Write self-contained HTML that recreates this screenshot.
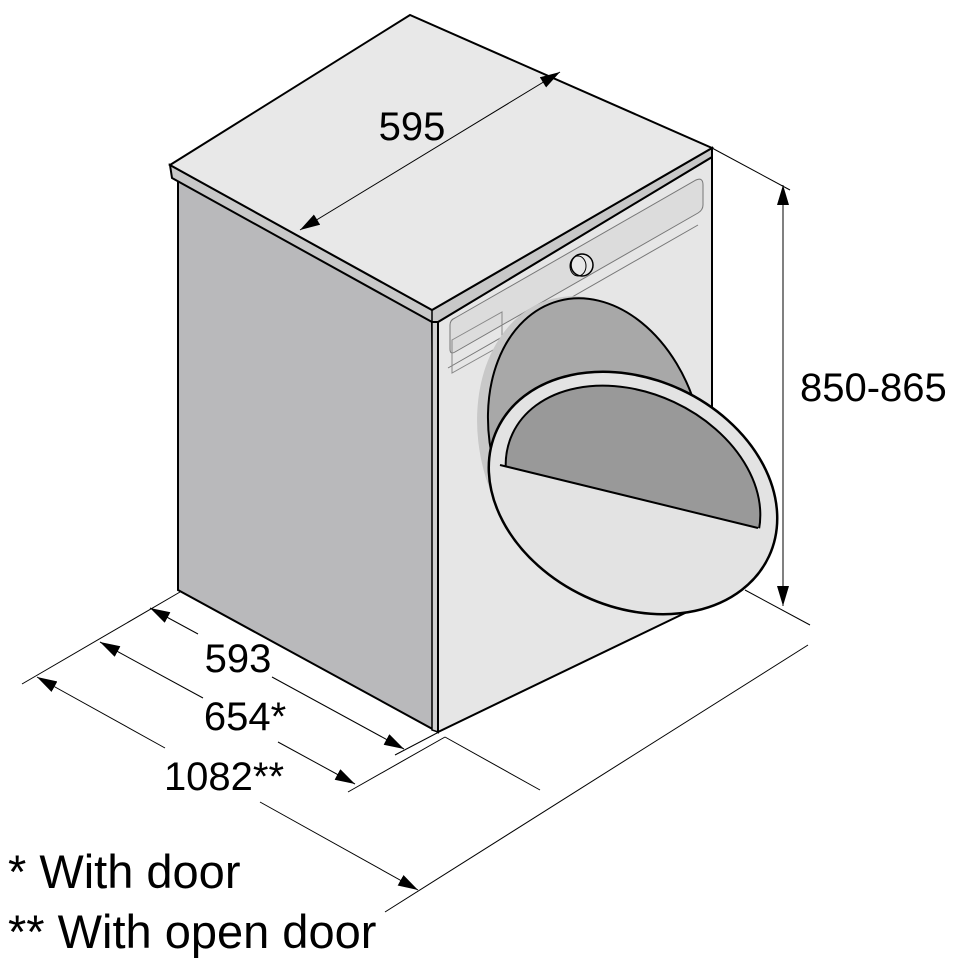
<!DOCTYPE html>
<html><head><style>html,body{margin:0;padding:0;background:#fff}svg{display:block}</style></head>
<body>
<svg width="962" height="971" viewBox="0 0 962 971" xmlns="http://www.w3.org/2000/svg" font-family="'Liberation Sans', sans-serif">
<defs>
<marker id="ah" viewBox="0 0 10 10" refX="10" refY="5" markerWidth="20" markerHeight="12" markerUnits="userSpaceOnUse" orient="auto-start-reverse" preserveAspectRatio="none"><path d="M0,0 L10,5 L0,10 z" fill="#000"/></marker>
<clipPath id="win"><polygon points="400,300 900,300 900,560 758,528 500,465 400,440"/></clipPath>
</defs>
<polygon points="178,178 432,320 438,732 178,590" fill="#b9b9bb" stroke="#000" stroke-width="2"/>
<polygon points="432,320 438,322 438,732 432,730" fill="#d0d0d0" stroke="#000" stroke-width="1.5"/>
<polygon points="438,322 712,157 712,600 438,732" fill="#e6e6e6" stroke="#000" stroke-width="2"/>
<polygon points="170,165 432,310 712,148 712,157 438,322 432,322 172,178" fill="#c8c8c8" stroke="#000" stroke-width="2"/>
<polygon points="170,165 410,15 712,148 432,310" fill="#e8e8e8" stroke="#000" stroke-width="2"/>
<line x1="432" y1="310" x2="432" y2="322" stroke="#000" stroke-width="1.5"/>
<path d="M455,318 L696,180 Q703,177 703,185 L703,205 Q703,210 698,213 L455,352 Q450,355 450,349 L450,325 Q450,320 455,318 Z" fill="#dcdcdc" stroke="#777" stroke-width="1"/>
<line x1="448" y1="368" x2="698" y2="225" stroke="#777" stroke-width="1"/>
<path d="M452,340 L502,312 L502,345 L452,373 Z" fill="none" stroke="#888" stroke-width="1"/>
<ellipse cx="582" cy="265" rx="11" ry="11" fill="#e8e8e8" stroke="#000" stroke-width="1.5"/>
<ellipse cx="578" cy="266" rx="8" ry="10" fill="none" stroke="#000" stroke-width="1"/>
<ellipse cx="590" cy="442" rx="110" ry="148" transform="rotate(-15 590 442)" fill="#c8c8c8"/>
<ellipse cx="596" cy="440" rx="105" ry="144" transform="rotate(-15 596 440)" fill="#a8a8a8" stroke="#000" stroke-width="2"/>
<ellipse cx="633" cy="493" rx="150" ry="114" transform="rotate(25 633 493)" fill="#e3e3e3" stroke="#000" stroke-width="2.5"/>
<g clip-path="url(#win)">
<ellipse cx="633" cy="490" rx="133" ry="97" transform="rotate(25 633 490)" fill="#999" stroke="#000" stroke-width="2"/>
</g>
<line x1="500" y1="465" x2="758" y2="528" stroke="#000" stroke-width="2"/>
<line x1="300" y1="230" x2="560" y2="72" stroke="#000" stroke-width="1" marker-start="url(#ah)" marker-end="url(#ah)"/>
<text x="412" y="140" font-size="40" text-anchor="middle">595</text>
<line x1="712" y1="148" x2="790" y2="190" stroke="#000" stroke-width="1"/>
<line x1="745" y1="590" x2="810" y2="625" stroke="#000" stroke-width="1"/>
<line x1="783" y1="185" x2="783" y2="606" stroke="#000" stroke-width="1" marker-start="url(#ah)" marker-end="url(#ah)"/>
<text x="800" y="401" font-size="40">850-865</text>
<line x1="180" y1="592" x2="22" y2="684" stroke="#000" stroke-width="1"/>
<line x1="395" y1="755" x2="437" y2="733" stroke="#000" stroke-width="1"/>
<line x1="348" y1="792" x2="445" y2="737" stroke="#000" stroke-width="1"/>
<line x1="445" y1="737" x2="540" y2="790" stroke="#000" stroke-width="1"/>
<line x1="808" y1="645" x2="385" y2="912" stroke="#000" stroke-width="1"/>
<line x1="150" y1="608" x2="198" y2="634" stroke="#000" stroke-width="1" marker-start="url(#ah)"/>
<line x1="272" y1="677" x2="404" y2="749" stroke="#000" stroke-width="1" marker-end="url(#ah)"/>
<text x="238" y="672" font-size="40" text-anchor="middle">593</text>
<line x1="100" y1="642" x2="203" y2="698" stroke="#000" stroke-width="1" marker-start="url(#ah)"/>
<line x1="278" y1="742" x2="355" y2="784" stroke="#000" stroke-width="1" marker-end="url(#ah)"/>
<text x="245" y="730" font-size="40" text-anchor="middle">654*</text>
<line x1="37" y1="677" x2="165" y2="748" stroke="#000" stroke-width="1" marker-start="url(#ah)"/>
<line x1="260" y1="802" x2="418" y2="890" stroke="#000" stroke-width="1" marker-end="url(#ah)"/>
<text x="224" y="790" font-size="40" text-anchor="middle">1082**</text>
<text x="8" y="888" font-size="47">* With door</text>
<text x="8" y="948" font-size="47">** With open door</text>
</svg>
</body></html>
